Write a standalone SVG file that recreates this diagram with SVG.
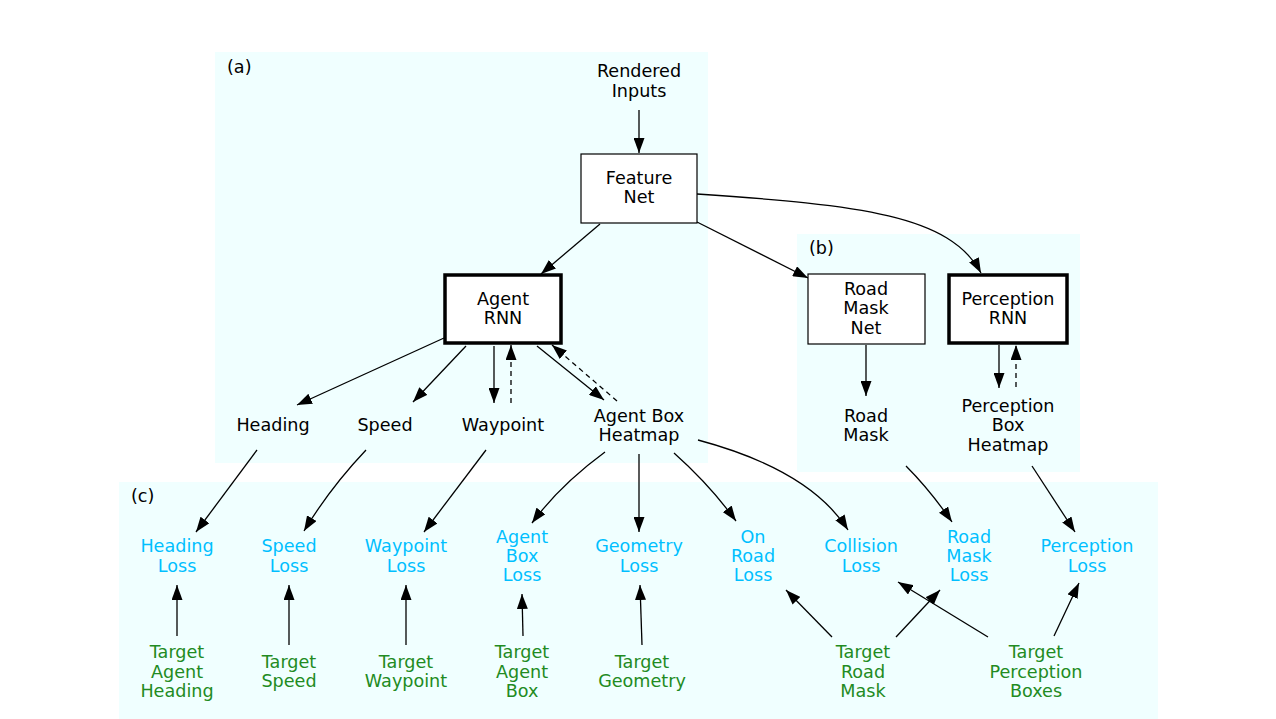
<svg xmlns="http://www.w3.org/2000/svg" width="1276" height="719" viewBox="0 0 1276 719">
<style>
text{font-family:"DejaVu Sans","Verdana",sans-serif;font-size:17.6px;text-anchor:middle;fill:#000}
.loss{fill:#00bfff}
.tgt{fill:#228b22}
.lbl{text-anchor:start}
.panel{fill:#f0ffff}
.box{fill:#fff;stroke:#000;stroke-width:1.2}
.thick{fill:#fff;stroke:#000;stroke-width:3.5}
.e{fill:none;stroke:#000;stroke-width:1.3;marker-end:url(#ah)}
.d{stroke-dasharray:5,4}
</style>
<defs>
<marker id="ah" markerWidth="15" markerHeight="11" refX="15" refY="5.5" orient="auto" markerUnits="userSpaceOnUse">
<path d="M0,0 L15,5.5 L0,11 Z" fill="#000"/>
</marker>
</defs>
<rect width="1276" height="719" fill="#fff"/>
<g id="panels">
<rect class="panel" x="215" y="52" width="493" height="411"/>
<rect class="panel" x="797" y="234" width="283" height="238"/>
<rect class="panel" x="119" y="482" width="1039" height="237"/>
<text class="lbl" x="227" y="73">(a)</text>
<text class="lbl" x="809" y="254">(b)</text>
<text class="lbl" x="131" y="502">(c)</text>
</g>
<g id="connectors">
<path class="e" d="M639,110 L639,153"/>
<path class="e" d="M600,224 L541,274"/>
<path class="e" d="M697,222 L808,278"/>
<path class="e" d="M697,194 C860,205 950,215 981,273"/>
<path class="e" d="M444,338 L297,405"/>
<path class="e" d="M466,346 L413,402"/>
<path class="e" d="M494,346 L494,403"/>
<path class="e d" d="M511,403 L511,345"/>
<path class="e" d="M537,346 L604,400"/>
<path class="e d" d="M617,401 L552,345"/>
<path class="e" d="M866,345 L866,396"/>
<path class="e" d="M999,345 L999,388"/>
<path class="e d" d="M1016,387 L1016,345"/>
<path class="e" d="M257,450 L196,532"/>
<path class="e" d="M366,450 Q330,488 304,531"/>
<path class="e" d="M486,450 L424,532"/>
<path class="e" d="M605,452 Q560,485 532,523"/>
<path class="e" d="M639,454 L639,532"/>
<path class="e" d="M674,453 Q710,485 736,521"/>
<path class="e" d="M698,440 Q810,470 848,530"/>
<path class="e" d="M906,466 Q930,490 952,522"/>
<path class="e" d="M1032,466 L1075,532"/>
<path class="e" d="M177,636 L177,585"/>
<path class="e" d="M289,645 L289,585"/>
<path class="e" d="M406,645 L406,585"/>
<path class="e" d="M523,636 L522,594"/>
<path class="e" d="M642,645 L640,585"/>
<path class="e" d="M832,637 L786,590"/>
<path class="e" d="M896,637 L940,590"/>
<path class="e" d="M988,637 L898,582"/>
<path class="e" d="M1054,636 L1079,583"/>
</g>
<g id="rendered-inputs"><text x="639" y="77">Rendered</text><text x="639" y="97">Inputs</text></g>
<g id="feature-net"><rect class="box" x="581" y="154" width="116" height="69"/><text x="639" y="184">Feature</text><text x="639" y="203">Net</text></g>
<g id="agent-rnn"><rect class="thick" x="445" y="275" width="116" height="68"/><text x="503" y="305">Agent</text><text x="503" y="324">RNN</text></g>
<g id="road-mask-net"><rect class="box" x="808" y="274" width="117" height="70"/><text x="866" y="295">Road</text><text x="866" y="314">Mask</text><text x="866" y="334">Net</text></g>
<g id="perception-rnn"><rect class="thick" x="949" y="275" width="118" height="68"/><text x="1008" y="305">Perception</text><text x="1008" y="324">RNN</text></g>
<g id="heading"><text x="273" y="431">Heading</text></g>
<g id="speed"><text x="385" y="431">Speed</text></g>
<g id="waypoint"><text x="503" y="431">Waypoint</text></g>
<g id="agent-box-heatmap"><text x="639" y="422">Agent Box</text><text x="639" y="441">Heatmap</text></g>
<g id="road-mask"><text x="866" y="422">Road</text><text x="866" y="441">Mask</text></g>
<g id="perception-box-heatmap"><text x="1008" y="412">Perception</text><text x="1008" y="431">Box</text><text x="1008" y="451">Heatmap</text></g>
<g id="heading-loss"><text class="loss" x="177" y="552">Heading</text><text class="loss" x="177" y="572">Loss</text></g>
<g id="speed-loss"><text class="loss" x="289" y="552">Speed</text><text class="loss" x="289" y="572">Loss</text></g>
<g id="waypoint-loss"><text class="loss" x="406" y="552">Waypoint</text><text class="loss" x="406" y="572">Loss</text></g>
<g id="agent-box-loss"><text class="loss" x="522" y="543">Agent</text><text class="loss" x="522" y="562">Box</text><text class="loss" x="522" y="581">Loss</text></g>
<g id="geometry-loss"><text class="loss" x="639" y="552">Geometry</text><text class="loss" x="639" y="572">Loss</text></g>
<g id="on-road-loss"><text class="loss" x="753" y="543">On</text><text class="loss" x="753" y="562">Road</text><text class="loss" x="753" y="581">Loss</text></g>
<g id="collision-loss"><text class="loss" x="861" y="552">Collision</text><text class="loss" x="861" y="572">Loss</text></g>
<g id="road-mask-loss"><text class="loss" x="969" y="543">Road</text><text class="loss" x="969" y="562">Mask</text><text class="loss" x="969" y="581">Loss</text></g>
<g id="perception-loss"><text class="loss" x="1087" y="552">Perception</text><text class="loss" x="1087" y="572">Loss</text></g>
<g id="target-agent-heading"><text class="tgt" x="177" y="658">Target</text><text class="tgt" x="177" y="678">Agent</text><text class="tgt" x="177" y="697">Heading</text></g>
<g id="target-speed"><text class="tgt" x="289" y="668">Target</text><text class="tgt" x="289" y="687">Speed</text></g>
<g id="target-waypoint"><text class="tgt" x="406" y="668">Target</text><text class="tgt" x="406" y="687">Waypoint</text></g>
<g id="target-agent-box"><text class="tgt" x="522" y="658">Target</text><text class="tgt" x="522" y="678">Agent</text><text class="tgt" x="522" y="697">Box</text></g>
<g id="target-geometry"><text class="tgt" x="642" y="668">Target</text><text class="tgt" x="642" y="687">Geometry</text></g>
<g id="target-road-mask"><text class="tgt" x="863" y="658">Target</text><text class="tgt" x="863" y="678">Road</text><text class="tgt" x="863" y="697">Mask</text></g>
<g id="target-perception-boxes"><text class="tgt" x="1036" y="658">Target</text><text class="tgt" x="1036" y="678">Perception</text><text class="tgt" x="1036" y="697">Boxes</text></g>
</svg>
